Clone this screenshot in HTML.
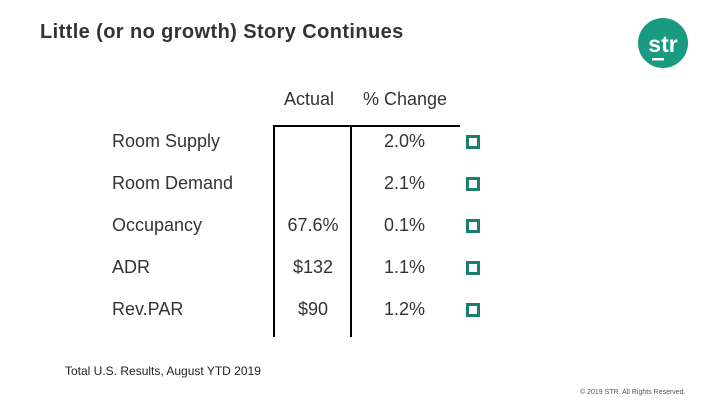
<!DOCTYPE html>
<html><head><style>
body{margin:0;width:720px;height:405px;background:#fff;font-family:"Liberation Sans",sans-serif;color:#333;position:relative;overflow:hidden}
.t{position:absolute;white-space:nowrap}
.sq{position:absolute;width:8px;height:8px;border:3px solid #1a7f6e}
</style></head><body>
<div class="t" style="left:40px;top:21px;font-size:20px;font-weight:bold;letter-spacing:0.4px;color:#333">Little (or no growth) Story Continues</div>
<svg style="position:absolute;left:636px;top:16px" width="54" height="54"><circle cx="27" cy="27" r="25" fill="#1a9a80"/><text x="27" y="36" font-size="23" font-weight="bold" fill="#fff" text-anchor="middle" font-family="Liberation Sans">str</text><rect x="16" y="42" width="12" height="2.5" fill="#fff"/></svg>
<div class="t" style="left:284px;top:89px;font-size:18px">Actual</div>
<div class="t" style="left:363px;top:89px;font-size:18px">% Change</div>
<div style="position:absolute;left:273px;top:125px;width:187px;height:2px;background:#000"></div>
<div style="position:absolute;left:273px;top:126px;width:2px;height:211px;background:#000"></div>
<div style="position:absolute;left:350px;top:126px;width:2px;height:211px;background:#000"></div>
<div id="rows"></div>
<div class="t" style="left:65px;top:364px;font-size:12px;color:#222">Total U.S. Results, August YTD 2019</div>
<div class="t" style="left:580px;top:389px;font-size:7px;color:#555">© 2019 STR. All Rights Reserved.</div>
<script>
const labels=["Room Supply","Room Demand","Occupancy","ADR","Rev.PAR"];
const actual=["","","67.6%","$132","$90"];
const change=["2.0%","2.1%","0.1%","1.1%","1.2%"];
const root=document.getElementById('rows');
labels.forEach((l,i)=>{
  const y=131+i*42;
  const a=document.createElement('div');a.className='t';a.style.cssText=`left:112px;top:${y}px;font-size:18px`;a.textContent=l;
  
  
  root.appendChild(a);
  const b=document.createElement('div');b.className='t';b.style.cssText=`left:275px;width:76px;text-align:center;top:${y}px;font-size:18px`;b.textContent=actual[i];
  
  
  root.appendChild(b);
  const c=document.createElement('div');c.className='t';c.style.cssText=`left:384px;top:${y}px;font-size:18px`;c.textContent=change[i];
  
  
  root.appendChild(c);
  const s=document.createElement('div');s.className='sq';s.style.cssText=`left:466px;top:${y+4}px`;
  
  
  root.appendChild(s);
});
</script>
</body></html>
